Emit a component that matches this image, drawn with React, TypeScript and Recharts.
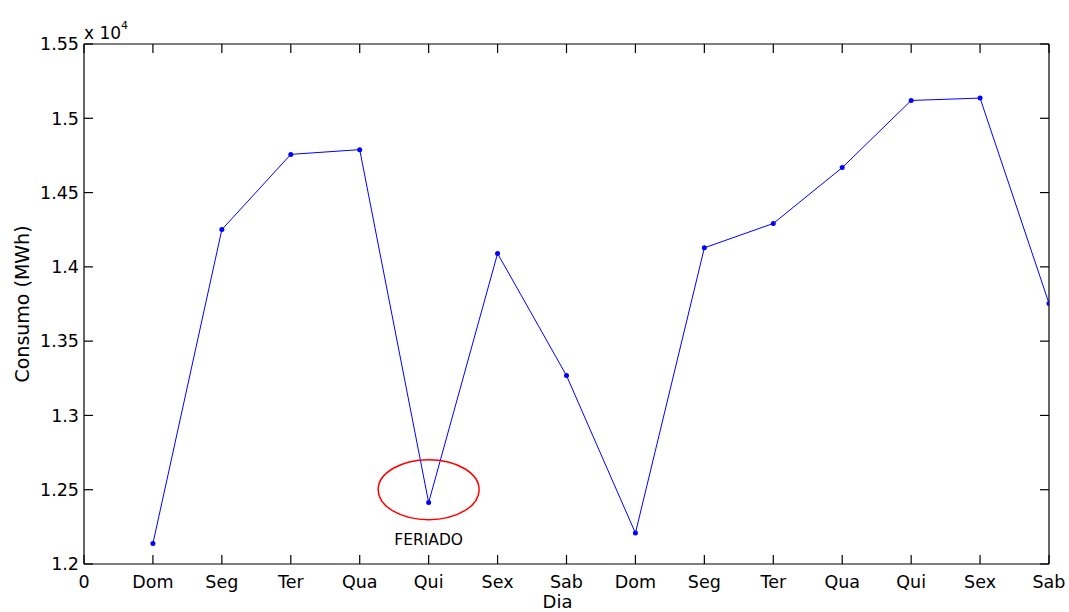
import React from 'react';
import { LineChart, Line, XAxis, YAxis, ReferenceDot } from 'recharts';

const dayIndex = [1, 2, 3, 4, 5, 6, 7, 8, 9, 10, 11, 12, 13, 14];
const consumo = [12138, 14251, 14757, 14789, 12414, 14090, 13268, 12208, 14128, 14292, 14668, 15120, 15136, 13754];
const xTicks = [0, 1, 2, 3, 4, 5, 6, 7, 8, 9, 10, 11, 12, 13, 14];
const xTickLabels = ['0', 'Dom', 'Seg', 'Ter', 'Qua', 'Qui', 'Sex', 'Sab', 'Dom', 'Seg', 'Ter', 'Qua', 'Qui', 'Sex', 'Sab'];
const yTicks = [12000, 12500, 13000, 13500, 14000, 14500, 15000, 15500];
const yTickLabels = ['1.2', '1.25', '1.3', '1.35', '1.4', '1.45', '1.5', '1.55'];
const feriadoDia = 5;
const feriadoCentro = 12500;

const data = dayIndex.map((d, i) => ({ dia: d, consumo: consumo[i] }));

const FONT = '"DejaVu Sans", "Liberation Sans", sans-serif';
const TICK_LEN = 9;
const TICK_LINE = { stroke: '#000', strokeWidth: 1.2 };
const AXIS_LINE = { stroke: '#000', strokeWidth: 1.2 };

const BottomTick = (props: any) => {
  const { x, y, payload } = props;
  const idx = xTicks.indexOf(payload.value);
  return (
    <text x={x} y={y + 24} textAnchor="middle" fontFamily={FONT} fontSize={17.5} fill="#000">
      {xTickLabels[idx]}
    </text>
  );
};

const LeftTick = (props: any) => {
  const { x, y, payload } = props;
  const idx = yTicks.indexOf(payload.value);
  return (
    <text x={x - 5} y={y} dy="0.36em" textAnchor="end" fontFamily={FONT} fontSize={17.5} fill="#000">
      {yTickLabels[idx]}
    </text>
  );
};

const NoLabel = () => <g />;

const YLabel = (props: any) => {
  const vb = props.viewBox || {};
  const cy = (vb.y || 0) + (vb.height || 0) / 2;
  return (
    <text x={22} y={cy} transform={`rotate(-90, 22, ${cy})`} textAnchor="middle" dy="0.36em"
      fontFamily={FONT} fontSize={19} fill="#000">
      Consumo (MWh)
    </text>
  );
};

const XLabel = (props: any) => {
  const vb = props.viewBox || {};
  const cx = (vb.x || 0) + (vb.width || 0) / 2 - 9;
  return (
    <text x={cx} y={608} textAnchor="middle" fontFamily={FONT} fontSize={18} fill="#000">
      Dia
    </text>
  );
};

const FeriadoShape = (props: any) => {
  const { cx, cy } = props;
  return (
    <g>
      <ellipse cx={cx} cy={cy} rx={50.5} ry={30} fill="none" stroke="#ff0000" strokeWidth={1.5} />
      <text x={cx} y={cy + 55} textAnchor="middle" fontFamily={FONT} fontSize={15.5} fill="#000">
        FERIADO
      </text>
    </g>
  );
};

export default function App() {
  return (
    <div style={{ position: 'absolute', left: 0, top: 0, width: 1069, height: 612, background: '#fff' }}>
      <LineChart width={1069} height={612} data={data} margin={{ top: 43, right: 19, bottom: 0, left: 0 }}>
        <XAxis xAxisId="x" dataKey="dia" type="number" domain={[0, 14]} ticks={xTicks} interval={0}
          allowDataOverflow orientation="bottom" height={48} tickSize={-TICK_LEN} tickMargin={TICK_LEN}
          tickLine={TICK_LINE} axisLine={AXIS_LINE} tick={<BottomTick />} label={<XLabel />} />
        <XAxis xAxisId="xt" dataKey="dia" type="number" domain={[0, 14]} ticks={xTicks} interval={0}
          allowDataOverflow orientation="top" height={1} tickSize={-TICK_LEN} tickMargin={0}
          tickLine={TICK_LINE} axisLine={AXIS_LINE} tick={<NoLabel />} />
        <YAxis yAxisId="y" type="number" domain={[12000, 15500]} ticks={yTicks} interval={0}
          allowDataOverflow orientation="left" width={84} tickSize={-TICK_LEN} tickMargin={TICK_LEN}
          tickLine={TICK_LINE} axisLine={AXIS_LINE} tick={<LeftTick />} label={<YLabel />} />
        <YAxis yAxisId="yr" dataKey="consumo" type="number" domain={[12000, 15500]} ticks={yTicks} interval={0}
          allowDataOverflow orientation="right" width={1} tickSize={-TICK_LEN} tickMargin={0}
          tickLine={TICK_LINE} axisLine={AXIS_LINE} tick={<NoLabel />} />
        <ReferenceDot xAxisId="x" yAxisId="y" x={feriadoDia} y={feriadoCentro} shape={<FeriadoShape />} />
        <Line xAxisId="x" yAxisId="y" type="linear" dataKey="consumo" stroke="#0000ff" strokeWidth={1}
          dot={{ r: 2.5, fill: '#0000ff', stroke: '#0000ff', strokeWidth: 0 }} isAnimationActive={false} />
      </LineChart>
      <div style={{ position: 'absolute', left: 84, top: 19, fontFamily: FONT, fontSize: 17, lineHeight: '20px', color: '#000', whiteSpace: 'nowrap' }}>
        x 10<sup style={{ fontSize: 11, position: 'relative', top: -3 }}>4</sup>
      </div>
    </div>
  );
}
